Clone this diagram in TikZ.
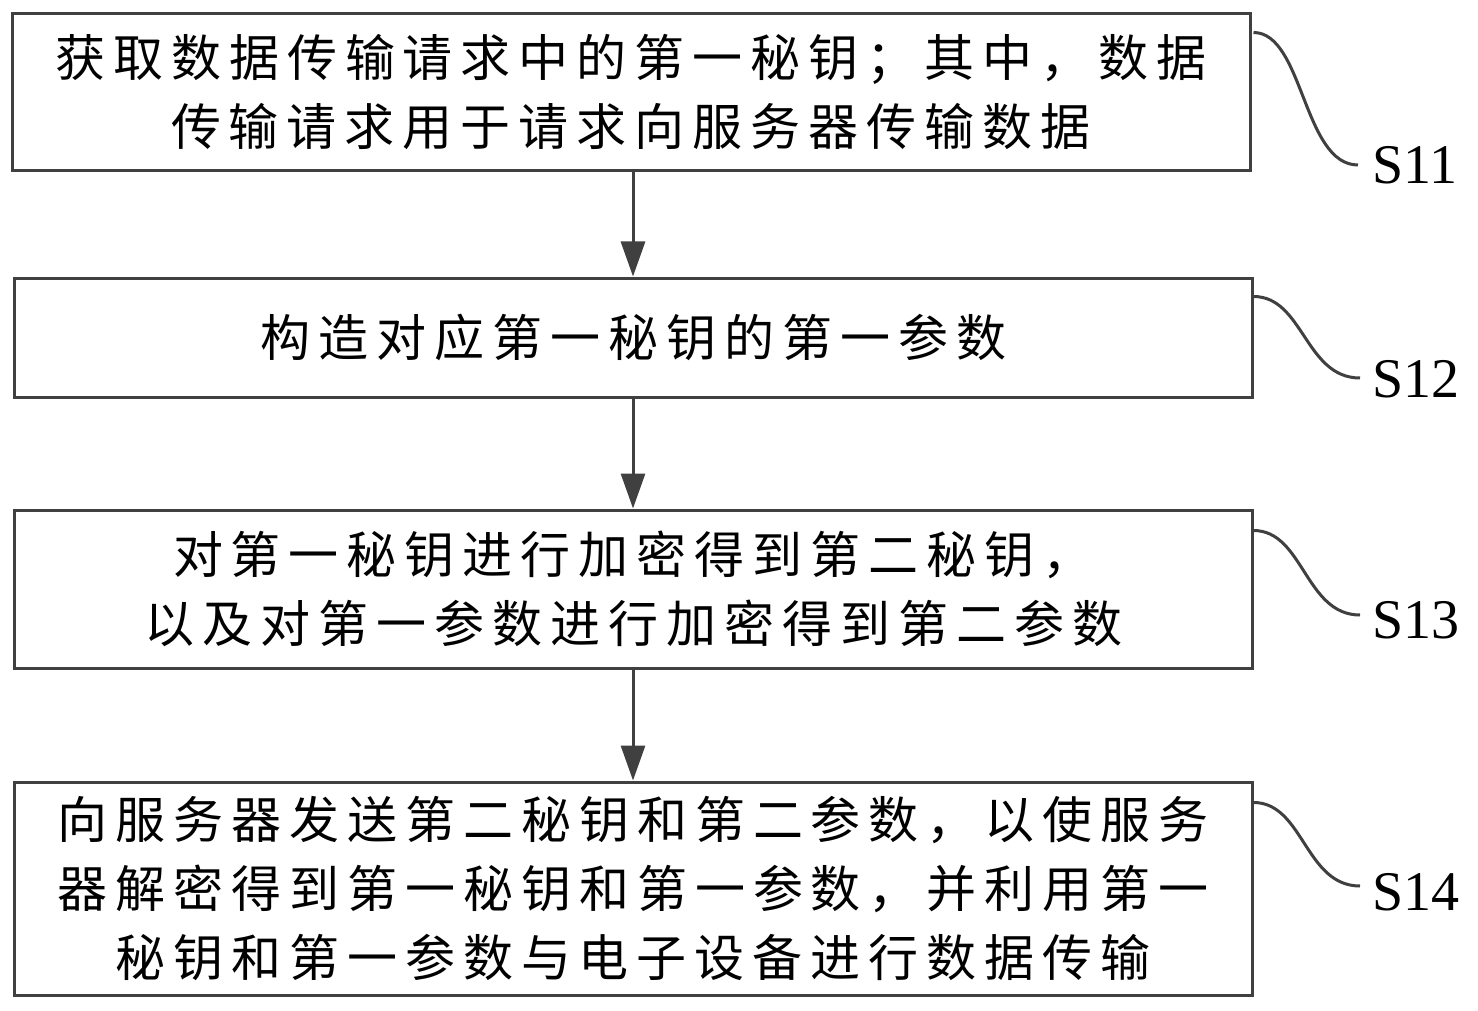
\documentclass[tikz,border=0pt]{standalone}
\usepackage{fontspec}
\setmainfont{Liberation Serif}
\newfontfamily\cjk[LetterSpace=16]{Noto Sans CJK SC}
\usetikzlibrary{arrows.meta}
\definecolor{lc}{HTML}{404040}
\begin{document}
\begin{tikzpicture}[x=1pt,y=-1pt,
 stepbox/.style={draw=lc,line width=3pt,inner sep=0pt,minimum width=1238pt,align=center,font=\cjk\fontsize{50}{69}\selectfont},
 arr/.style={draw=lc,line width=3pt,-{Triangle[width=24pt,length=35pt]}},
 lead/.style={draw=lc,line width=3pt},
 lab/.style={anchor=west,inner sep=0pt,font=\fontsize{56}{60}\selectfont}]
\useasboundingbox[fill=white] (0,0) rectangle (1478,1011);
\node[stepbox,minimum height=157pt] (b1) at (631,92.5) {获取数据传输请求中的第一秘钥；其中，数据\\传输请求用于请求向服务器传输数据};
\node[stepbox,minimum height=119pt] (b2) at (633,337.5) {构造对应第一秘钥的第一参数};
\node[stepbox,minimum height=158pt] (b3) at (633,589) {对第一秘钥进行加密得到第二秘钥，\\以及对第一参数进行加密得到第二参数};
\node[stepbox,minimum height=213pt] (b4) at (633,888.5) {向服务器发送第二秘钥和第二参数，以使服务\\器解密得到第一秘钥和第一参数，并利用第一\\秘钥和第一参数与电子设备进行数据传输};
\draw[arr] ([xshift=2pt]b1.south) -- (b2.north);
\draw[arr] (b2.south) -- (b3.north);
\draw[arr] (b3.south) -- (b4.north);
\coordinate (e1) at (1358,165);
\coordinate (e2) at (1360,378);
\coordinate (e3) at (1360,615);
\coordinate (e4) at (1360,886);
\draw[lead] ([xshift=2pt,yshift=-20pt]b1.north east) .. controls +(50,0) and +(-55,0) .. (e1);
\draw[lead] ([yshift=-20pt]b2.north east) .. controls +(50,0) and +(-55,0) .. (e2);
\draw[lead] ([yshift=-22pt]b3.north east) .. controls +(50,0) and +(-55,0) .. (e3);
\draw[lead] ([yshift=-22pt]b4.north east) .. controls +(50,0) and +(-55,0) .. (e4);
\node[lab] (l1) at (1372,165) {S11};
\node[lab] (l2) at (1372,379) {S12};
\node[lab] (l3) at (1372,620) {S13};
\node[lab] (l4) at (1372,892) {S14};
\end{tikzpicture}
\end{document}
